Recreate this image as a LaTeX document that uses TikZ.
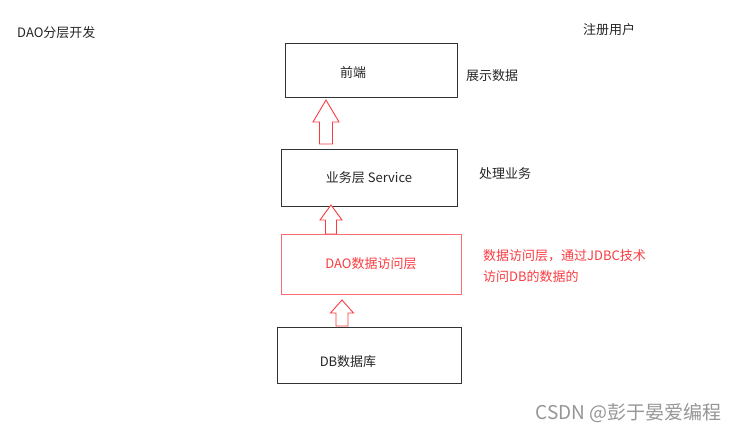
\documentclass[tikz,border=0pt]{standalone}
\usepackage{fontspec}
\setmainfont{Noto Sans CJK SC}
\definecolor{daored}{RGB}{250,60,65}
\definecolor{daoline}{RGB}{250,110,115}
\definecolor{markgray}{RGB}{150,150,150}
\begin{document}
\begin{tikzpicture}[x=1pt,y=-1pt, every node/.style={font=\fontsize{13}{15}\selectfont,inner sep=0pt,text=black!85},
  box/.style={draw=black!80,line width=1pt,minimum width=176pt,minimum height=56pt},
  redbox/.style={draw=daoline,line width=1pt,minimum width=180pt,minimum height=60pt},
  uparrow/.style={draw=daored,line width=0.9pt,fill=white,line join=miter}]
\useasboundingbox[fill=white] (0,0) rectangle (737,431);
\node[anchor=west] (title) at (17,33) {DAO分层开发};
\node (reg) at (609,30) {注册用户};
\node[box,minimum width=172pt,minimum height=54pt] (fe) at (371,70) {};
\node (fetxt) at (353,73) {前端};
\node[anchor=west] (show) at (466,76) {展示数据};
\node[box,minimum height=57pt] (svc) at (369,177.5) {业务层 Service};
\node[anchor=west] (biz) at (479,174) {处理业务};
\node[redbox,text=daored] (dao) at (371,264) {DAO数据访问层};
\node[anchor=north west,align=left,text=daored] (daonote) at (483,249) {数据访问层，通过JDBC技术\\[6pt]访问DB的数据的};
\node[box,minimum width=184pt] (db) at (369,355) {};
\node (dbtxt) at (348,362) {DB数据库};
\foreach \x/\tip/\hb/\bot/\sw/\hw in {326/100/122/144/6.5/13, 331/205/220/234/5.5/11, 342/300/313/326/6/11.5}
  \draw[uparrow] (\x,\tip) -- (\x+\hw,\hb) -- (\x+\sw,\hb) -- (\x+\sw,\bot) -- (\x-\sw,\bot) -- (\x-\sw,\hb) -- (\x-\hw,\hb) -- cycle;
\node[anchor=east,font=\fontsize{19}{21}\selectfont,text=markgray] (mark) at (722,413) {CSDN @彭于晏爱编程};
\end{tikzpicture}
\end{document}
